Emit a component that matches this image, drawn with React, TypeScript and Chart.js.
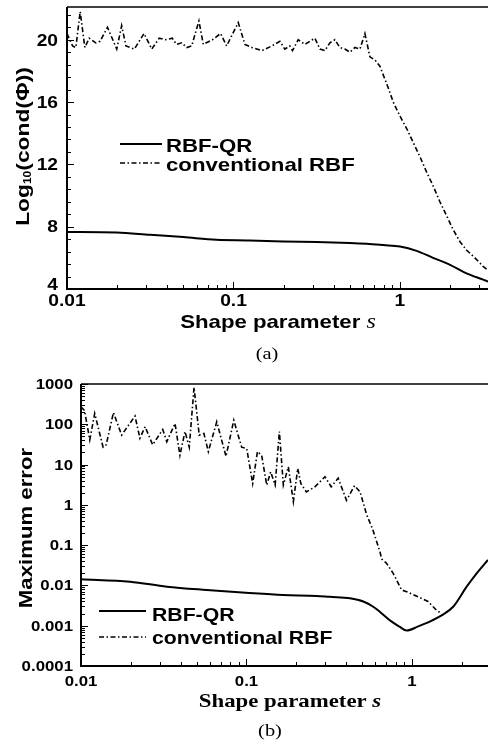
import React, { useEffect, useRef } from "react";
import { Chart, registerables } from "chart.js";
Chart.register(...registerables);

// ---------------- data: panel (a) ----------------
const qrS_a = [0.01, 0.0199, 0.0315, 0.05, 0.079, 0.125, 0.199, 0.315, 0.5, 0.631, 0.794, 1.0, 1.26, 1.58, 2.0, 2.51, 3.16, 3.4];
const qrV_a = [7.66, 7.63, 7.48, 7.33, 7.16, 7.12, 7.05, 7.01, 6.95, 6.9, 6.82, 6.73, 6.45, 6.0, 5.55, 5.0, 4.6, 4.47];

const convS_a = [
  0.01, 0.0108, 0.0113, 0.012, 0.0128, 0.0136, 0.0149, 0.0158, 0.0175, 0.0199,
  0.0213, 0.0226, 0.0254, 0.029, 0.0323, 0.0358, 0.0391, 0.0429, 0.0455, 0.0489,
  0.0525, 0.0561, 0.062, 0.0659, 0.0748, 0.0837, 0.091, 0.1068, 0.1172, 0.1288,
  0.1484, 0.17, 0.19, 0.2033, 0.2179, 0.2262, 0.2448, 0.2685, 0.3082, 0.3305,
  0.354, 0.3795, 0.4066, 0.4357, 0.4671, 0.5005, 0.5364, 0.575, 0.616, 0.66,
  0.708, 0.758, 0.851, 0.911, 1.0, 1.097, 1.202, 1.318, 1.446, 1.585,
  1.738, 1.907, 2.09, 2.29, 2.51, 2.82, 3.16, 3.38,
];
const convV_a = [
  20.4, 19.6, 19.5, 21.8, 19.5, 20.1, 19.8, 19.9, 20.8, 19.4,
  20.9, 19.6, 19.4, 20.4, 19.4, 20.1, 20.0, 20.1, 19.7, 19.8,
  19.5, 19.6, 21.2, 19.7, 20.0, 20.4, 19.6, 21.1, 19.7, 19.5,
  19.3, 19.6, 19.9, 19.4, 19.6, 19.3, 20.0, 19.7, 20.1, 19.4,
  19.3, 19.8, 20.0, 19.5, 19.4, 19.2, 19.5, 19.4, 20.4, 18.9,
  18.7, 18.3, 16.9, 16.0, 15.1, 14.3, 13.4, 12.5, 11.5, 10.6,
  9.6, 8.7, 7.8, 7.05, 6.5, 6.0, 5.45, 5.2,
];

// ---------------- data: panel (b) ----------------
const qrS_b = [0.01, 0.0198, 0.033, 0.0575, 0.099, 0.166, 0.265, 0.319, 0.422, 0.508, 0.58, 0.641, 0.754, 0.84, 0.929, 1.09, 1.28, 1.51, 1.78, 2.14, 2.46, 2.88];
const qrV_b = [0.0142, 0.0124, 0.0093, 0.0077, 0.0066, 0.0058, 0.0055, 0.0052, 0.0048, 0.004, 0.003, 0.0022, 0.00126, 0.00095, 0.00076, 0.00096, 0.00126, 0.0018, 0.003, 0.0093, 0.02, 0.043];

const convS_b = [
  0.01, 0.0105, 0.0113, 0.0121, 0.0136, 0.0142, 0.0157, 0.0176, 0.0212, 0.0227,
  0.0244, 0.0271, 0.0312, 0.033, 0.037, 0.0396, 0.0425, 0.0451, 0.0482, 0.0518,
  0.0553, 0.0588, 0.0661, 0.0752, 0.0838, 0.0935, 0.1003, 0.109, 0.1165, 0.1235,
  0.1325, 0.14, 0.149, 0.158, 0.167, 0.179, 0.192, 0.204, 0.213, 0.23,
  0.259, 0.298, 0.325, 0.358, 0.402, 0.45, 0.486, 0.53, 0.58, 0.64,
  0.656, 0.7, 0.77, 0.866, 0.929, 1.09, 1.25, 1.41, 1.51,
];
const convV_b = [
  270, 220, 41, 186, 27, 31, 195, 54, 160, 45,
  87, 31, 74, 37, 105, 17, 66, 27, 830, 54,
  59, 21, 115, 16, 126, 27, 25, 3.4, 21, 17,
  3.1, 6.6, 3.1, 66, 3.1, 8.8, 1.2, 8.0, 3.4, 2.1,
  2.8, 5.0, 2.8, 4.6, 1.3, 3.0, 2.1, 0.6, 0.24, 0.069,
  0.045, 0.036, 0.02, 0.0077, 0.007, 0.0052, 0.004, 0.0024, 0.002,
];

// ---------------- ticks ----------------
const xMajor = [0.01, 0.1, 1];
const xMajorLabels = ["0.01", "0.1", "1"];
const xMinor = [0.02, 0.03, 0.04, 0.05, 0.06, 0.07, 0.08, 0.09, 0.2, 0.3, 0.4, 0.5, 0.6, 0.7, 0.8, 0.9, 2, 3];

const yMajor_a = [4, 8, 12, 16, 20];
const yLabels_a = ["4", "8", "12", "16", "20"];
const yMinor_a = [4.8, 5.6, 6.4, 7.2, 8.8, 9.6, 10.4, 11.2, 12.8, 13.6, 14.4, 15.2, 16.8, 17.6, 18.4, 19.2, 20.8, 21.6];

const yMajor_b = [0.0001, 0.001, 0.01, 0.1, 1, 10, 100, 1000];
const yLabels_b = ["0.0001", "0.001", "0.01", "0.1", "1", "10", "100", "1000"];
const yMinorMult = [2, 3, 4, 5, 6, 7, 8, 9];
const yMinor_b = yMajor_b.slice(0, -1).flatMap((d) => yMinorMult.map((m) => d * m));

const seriesNames = ["RBF-QR", "conventional RBF"];

const W = 488;
const STRETCH = 1.2;
const SANS = "'Liberation Sans', Arial, sans-serif";
const SERIF = "'Liberation Serif', 'Times New Roman', serif";
const DASH = [5, 2.5, 1.5, 2.5];

type Run = { text: string; font: string; dy?: number };

function drawRuns(ctx: CanvasRenderingContext2D, runs: Run[], x: number, y: number, align: string, rot = 0, stretch = STRETCH) {
  ctx.save();
  ctx.translate(x, y);
  if (rot) ctx.rotate(rot);
  ctx.scale(stretch, 1);
  const widths = runs.map((r) => {
    ctx.font = r.font;
    return ctx.measureText(r.text).width;
  });
  const total = widths.reduce((a, b) => a + b, 0);
  let cx = align === "center" ? -total / 2 : align === "right" ? -total : 0;
  ctx.fillStyle = "#000";
  ctx.textAlign = "left";
  ctx.textBaseline = "alphabetic";
  runs.forEach((r, i) => {
    ctx.font = r.font;
    ctx.fillText(r.text, cx, r.dy || 0);
    cx += widths[i];
  });
  ctx.restore();
}

function makePlugin(cfg: any) {
  return {
    id: "frame_" + cfg.id,
    afterDraw(chart: any) {
      const ctx: CanvasRenderingContext2D = chart.ctx;
      const { left, top, right, bottom } = chart.chartArea;
      const xs = chart.scales.x;
      const ys = chart.scales.y;
      ctx.save();
      ctx.strokeStyle = "#000";
      ctx.setLineDash([]);
      // ticks
      ctx.lineWidth = 1;
      ctx.beginPath();
      xMajor.forEach((v) => {
        const p = Math.round(xs.getPixelForValue(v)) + 0.5;
        ctx.moveTo(p, bottom);
        ctx.lineTo(p, bottom - 7);
      });
      xMinor.forEach((v) => {
        const p = Math.round(xs.getPixelForValue(v)) + 0.5;
        if (p > right) return;
        ctx.moveTo(p, bottom);
        ctx.lineTo(p, bottom - 4);
      });
      cfg.yMajor.forEach((v: number) => {
        const p = Math.round(ys.getPixelForValue(v)) + 0.5;
        ctx.moveTo(left, p);
        ctx.lineTo(left + 7, p);
      });
      cfg.yMinor.forEach((v: number) => {
        const p = Math.round(ys.getPixelForValue(v)) + 0.5;
        if (p < top) return;
        ctx.moveTo(left, p);
        ctx.lineTo(left + 4, p);
      });
      ctx.stroke();
      // axes
      ctx.lineWidth = 2;
      ctx.beginPath();
      ctx.moveTo(left, top);
      ctx.lineTo(left, bottom);
      ctx.lineTo(right, bottom);
      ctx.stroke();
      ctx.lineWidth = 1.5;
      ctx.beginPath();
      ctx.moveTo(left, top);
      ctx.lineTo(right, top);
      ctx.stroke();

      // tick labels
      xMajor.forEach((v, i) => {
        drawRuns(ctx, [{ text: xMajorLabels[i], font: cfg.tickFont }], xs.getPixelForValue(v), cfg.xLabelBase, "center");
      });
      cfg.yMajor.forEach((v: number, i: number) => {
        let p = ys.getPixelForValue(v);
        p = Math.min(p, cfg.yLabelMaxY);
        drawRuns(ctx, [{ text: cfg.yLabels[i], font: cfg.tickFont }], cfg.yLabelRight, p + cfg.tickHalfCap, "right");
      });

      // axis titles
      drawRuns(ctx, cfg.xTitle, cfg.xTitlePos[0], cfg.xTitlePos[1], "center");
      drawRuns(ctx, cfg.yTitle, cfg.yTitlePos[0], cfg.yTitlePos[1], "center", -Math.PI / 2);

      // legend
      const lg = cfg.legend;
      ctx.lineWidth = 2;
      ctx.beginPath();
      ctx.moveTo(lg.x0, lg.y1);
      ctx.lineTo(lg.x1, lg.y1);
      ctx.stroke();
      ctx.lineWidth = 1.6;
      ctx.setLineDash(DASH);
      ctx.beginPath();
      ctx.moveTo(lg.x0, lg.y2);
      ctx.lineTo(lg.x1, lg.y2);
      ctx.stroke();
      ctx.setLineDash([]);
      drawRuns(ctx, [{ text: seriesNames[0], font: lg.font }], lg.tx, lg.b1, "left");
      drawRuns(ctx, [{ text: seriesNames[1], font: lg.font }], lg.tx, lg.b2, "left");

      // caption
      drawRuns(ctx, [{ text: cfg.caption, font: `17px ${SERIF}` }], cfg.captionPos[0], cfg.captionPos[1], "center");
      ctx.restore();
    },
  };
}

const panelA = {
  id: "a",
  h: 365,
  area: { l: 67, t: 7, r: 488, b: 289 },
  xMax: 3.38,
  yType: "linear",
  yMin: 4,
  yMax: 22.1,
  yMajor: yMajor_a,
  yLabels: yLabels_a,
  yMinor: yMinor_a,
  tickFont: `bold 16px ${SANS}`,
  tickHalfCap: 5.8,
  xLabelBase: 306,
  yLabelRight: 58,
  yLabelMaxY: 284,
  xTitle: [
    { text: "Shape parameter ", font: `bold 18.5px ${SANS}` },
    { text: "s", font: `italic 20px ${SERIF}` },
  ],
  xTitlePos: [278, 328],
  yTitle: [
    { text: "Log", font: `bold 19px ${SANS}` },
    { text: "10", font: `bold 10px ${SANS}`, dy: 2 },
    { text: "(cond(Φ))", font: `bold 19px ${SANS}` },
  ],
  yTitlePos: [29, 146.5],
  legend: { x0: 120, x1: 162, y1: 144, y2: 163, tx: 166, b1: 151.5, b2: 170.5, font: `bold 18.5px ${SANS}` },
  caption: "(a)",
  captionPos: [267, 359],
  qrS: qrS_a,
  qrV: qrV_a,
  convS: convS_a,
  convV: convV_a,
};

const OFF_B = 365;
const panelB = {
  id: "b",
  h: 380,
  area: { l: 81, t: 384 - OFF_B, r: 488, b: 666 - OFF_B },
  xMax: 2.88,
  yType: "logarithmic",
  yMin: 0.0001,
  yMax: 1000,
  yMajor: yMajor_b,
  yLabels: yLabels_b,
  yMinor: yMinor_b,
  tickFont: `bold 14px ${SANS}`,
  tickHalfCap: 5,
  xLabelBase: 686 - OFF_B,
  yLabelRight: 73,
  yLabelMaxY: 1000,
  xTitle: [
    { text: "Shape parameter ", font: `bold 19px ${SERIF}` },
    { text: "s", font: `italic bold 19px ${SERIF}` },
  ],
  xTitlePos: [290, 707 - OFF_B],
  yTitle: [{ text: "Maximum error", font: `bold 18.5px ${SANS}` }],
  yTitlePos: [32, 528 - OFF_B],
  legend: { x0: 99, x1: 146, y1: 611 - OFF_B, y2: 637 - OFF_B, tx: 152, b1: 621 - OFF_B, b2: 644 - OFF_B, font: `bold 17.7px ${SANS}` },
  caption: "(b)",
  captionPos: [270, 736 - OFF_B],
  qrS: qrS_b,
  qrV: qrV_b,
  convS: convS_b,
  convV: convV_b,
};

function Panel({ cfg, top }: { cfg: any; top: number }) {
  const ref = useRef<HTMLCanvasElement | null>(null);
  useEffect(() => {
    if (!ref.current) return;
    const chart = new Chart(ref.current, {
      type: "line",
      data: {
        datasets: [
          {
            label: seriesNames[0],
            data: cfg.qrS.map((s: number, i: number) => ({ x: s, y: cfg.qrV[i] })),
            borderColor: "#000",
            borderWidth: 2,
            pointRadius: 0,
            cubicInterpolationMode: "monotone",
            fill: false,
          },
          {
            label: seriesNames[1],
            data: cfg.convS.map((s: number, i: number) => ({ x: s, y: cfg.convV[i] })),
            borderColor: "#000",
            borderWidth: 1.6,
            borderDash: DASH,
            pointRadius: 0,
            tension: 0,
            fill: false,
          },
        ],
      },
      options: {
        animation: false,
        responsive: false,
        devicePixelRatio: 1,
        events: [],
        layout: {
          padding: {
            left: cfg.area.l,
            top: cfg.area.t,
            right: W - cfg.area.r,
            bottom: cfg.h - cfg.area.b,
          },
        },
        scales: {
          x: { type: "logarithmic", min: 0.01, max: cfg.xMax, display: false },
          y: { type: cfg.yType, min: cfg.yMin, max: cfg.yMax, display: false },
        },
        plugins: { legend: { display: false }, tooltip: { enabled: false } },
      },
      plugins: [makePlugin(cfg)],
    } as any);
    return () => chart.destroy();
  }, [cfg]);
  return (
    <canvas
      ref={ref}
      width={W}
      height={cfg.h}
      style={{ position: "absolute", left: 0, top, width: W, height: cfg.h, display: "block" }}
    />
  );
}

export default function App() {
  return (
    <div style={{ position: "fixed", left: 0, top: 0, width: W, height: 745, background: "#fff", overflow: "hidden" }}>
      <Panel cfg={panelA} top={0} />
      <Panel cfg={panelB} top={OFF_B} />
    </div>
  );
}
